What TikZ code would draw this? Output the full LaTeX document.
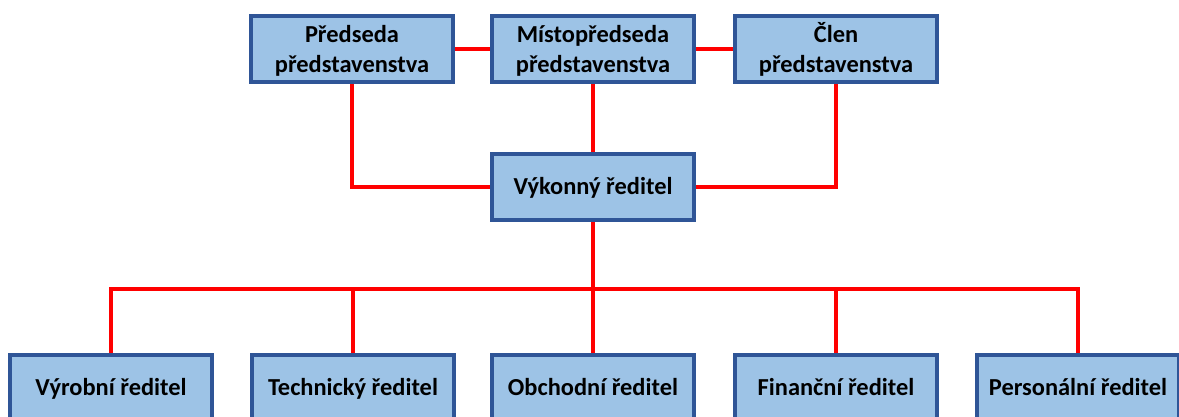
\documentclass[tikz,border=0pt]{standalone}
\usepackage{fontspec}
\setmainfont{Carlito}
\usetikzlibrary{backgrounds}
\definecolor{boxfill}{HTML}{9DC3E6}
\definecolor{boxline}{HTML}{2F5597}
\definecolor{linkred}{HTML}{FF0000}
\begin{document}
\begin{tikzpicture}[
    x=0.02cm, y=-0.02cm,
    font=\fontsize{13.9}{17}\selectfont\bfseries,
    box/.style={draw=boxline, fill=boxfill, line width=2.2pt, rectangle,
        minimum width=4.04cm, minimum height=1.32cm, align=center, inner sep=0pt,
        text height=0.9em, text depth=0.05em},
    twoline/.style={box, text height=28.1pt, text depth=0.1em},
    link/.style={draw=linkred, line width=2.3pt}
]
\clip (0,0) rectangle (1179,416);

% Board
\node[twoline] (chair)  at (352,49) {Předseda\\představenstva};
\node[twoline] (vice)   at (593,49) {Místopředseda\\představenstva};
\node[twoline] (member) at (836,49) {Člen\\představenstva};

% Executive
\node[box] (ceo) at (593,187) {Výkonný ředitel};

% Directors
\node[box] (prod)  at (111,388)  {Výrobní ředitel};
\node[box] (tech)  at (353,388)  {Technický ředitel};
\node[box] (sales) at (593,388)  {Obchodní ředitel};
\node[box] (fin)   at (836,388)  {Finanční ředitel};
\node[box] (pers)  at (1078,388) {Personální ředitel};

\coordinate (bus) at (593,289);

% Links
\begin{scope}[on background layer]
\draw[link] (chair) -- (vice);
\draw[link] (vice) -- (member);
\draw[link] (chair.south) |- (ceo.west);
\draw[link] (vice.south) -- (ceo.north);
\draw[link] (member.south) |- (ceo.east);
\draw[link] (ceo.south) -- (bus);
\draw[link] (prod.north) |- (bus) -| (pers.north);
\foreach \d in {tech,sales,fin}
    \draw[link] (\d.north) -- (\d.north |- bus);
\end{scope}

\end{tikzpicture}
\end{document}
